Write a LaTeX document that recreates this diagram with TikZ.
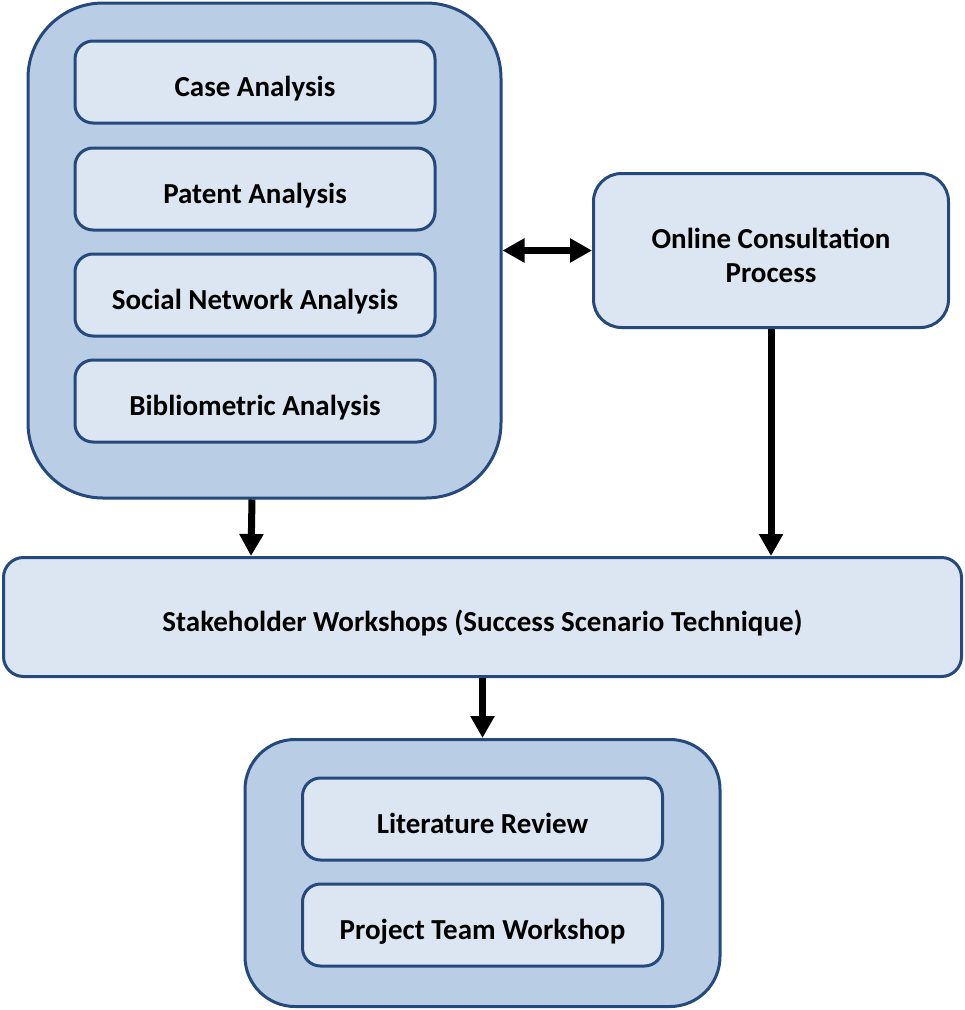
\documentclass[tikz,border=0pt]{standalone}
\usepackage{fontspec}
\setmainfont{Carlito}
\usepackage{tikz}
\usetikzlibrary{arrows.meta}
\definecolor{boxline}{RGB}{37,73,125}
\definecolor{outerfill}{RGB}{185,205,229}
\definecolor{innerfill}{RGB}{220,230,242}

\begin{document}
\begin{tikzpicture}[x=1pt, y=-1pt,
		outerbox/.style={draw=boxline, line width=3pt, fill=outerfill, inner sep=0pt},
		innerbox/.style={draw=boxline, line width=3pt, fill=innerfill, rounded corners=18pt,
			minimum width=360pt, minimum height=82pt, inner sep=0pt, text height=29pt, text depth=0pt,
			font=\fontsize{29}{34}\selectfont\bfseries, align=center},
		link/.style={line width=7pt, -{Triangle[length=22pt,width=23pt]}}]
				\useasboundingbox (0,0) rectangle (965,1010);
				% outer groups
				\node[outerbox, rounded corners=75pt, minimum width=473pt, minimum height=495pt] (analysis) at (264.5,250.5) {};
				\node[outerbox, rounded corners=50pt, minimum width=475pt, minimum height=267pt] (review) at (482.5,873) {};
				\foreach \name/\y/\txt in {case/82/Case Analysis, patent/189/Patent Analysis, social/295/Social Network Analysis, biblio/401/Bibliometric Analysis} {
					\node[innerbox] (\name) at (255,\y) {\txt};
				}
				\foreach \name/\y/\txt in {literature/819/Literature Review, team/925/Project Team Workshop} {
					\node[innerbox] (\name) at (482.5,\y) {\txt};
				}
				\node[innerbox, rounded corners=28pt, minimum width=355pt, minimum height=154pt, text height=63pt] (online) at (771,250.5) {Online Consultation\\Process};
				\node[innerbox, rounded corners=20pt, minimum width=958pt, minimum height=119pt] (workshops) at (482.5,617) {Stakeholder Workshops (Success Scenario Technique)};
				% arrows
				\draw[link, {Triangle[length=22pt,width=23pt]}-{Triangle[length=22pt,width=23pt]}] (analysis.east |- online.west) -- (online.west);
				\draw[link] (analysis.south -| 252,0) -- (workshops.north -| 251,0);
				\draw[link] (online.south) -- (workshops.north -| online.south);
				\draw[link] (workshops.south -| review.north) -- (review.north);
\end{tikzpicture}
\end{document}
